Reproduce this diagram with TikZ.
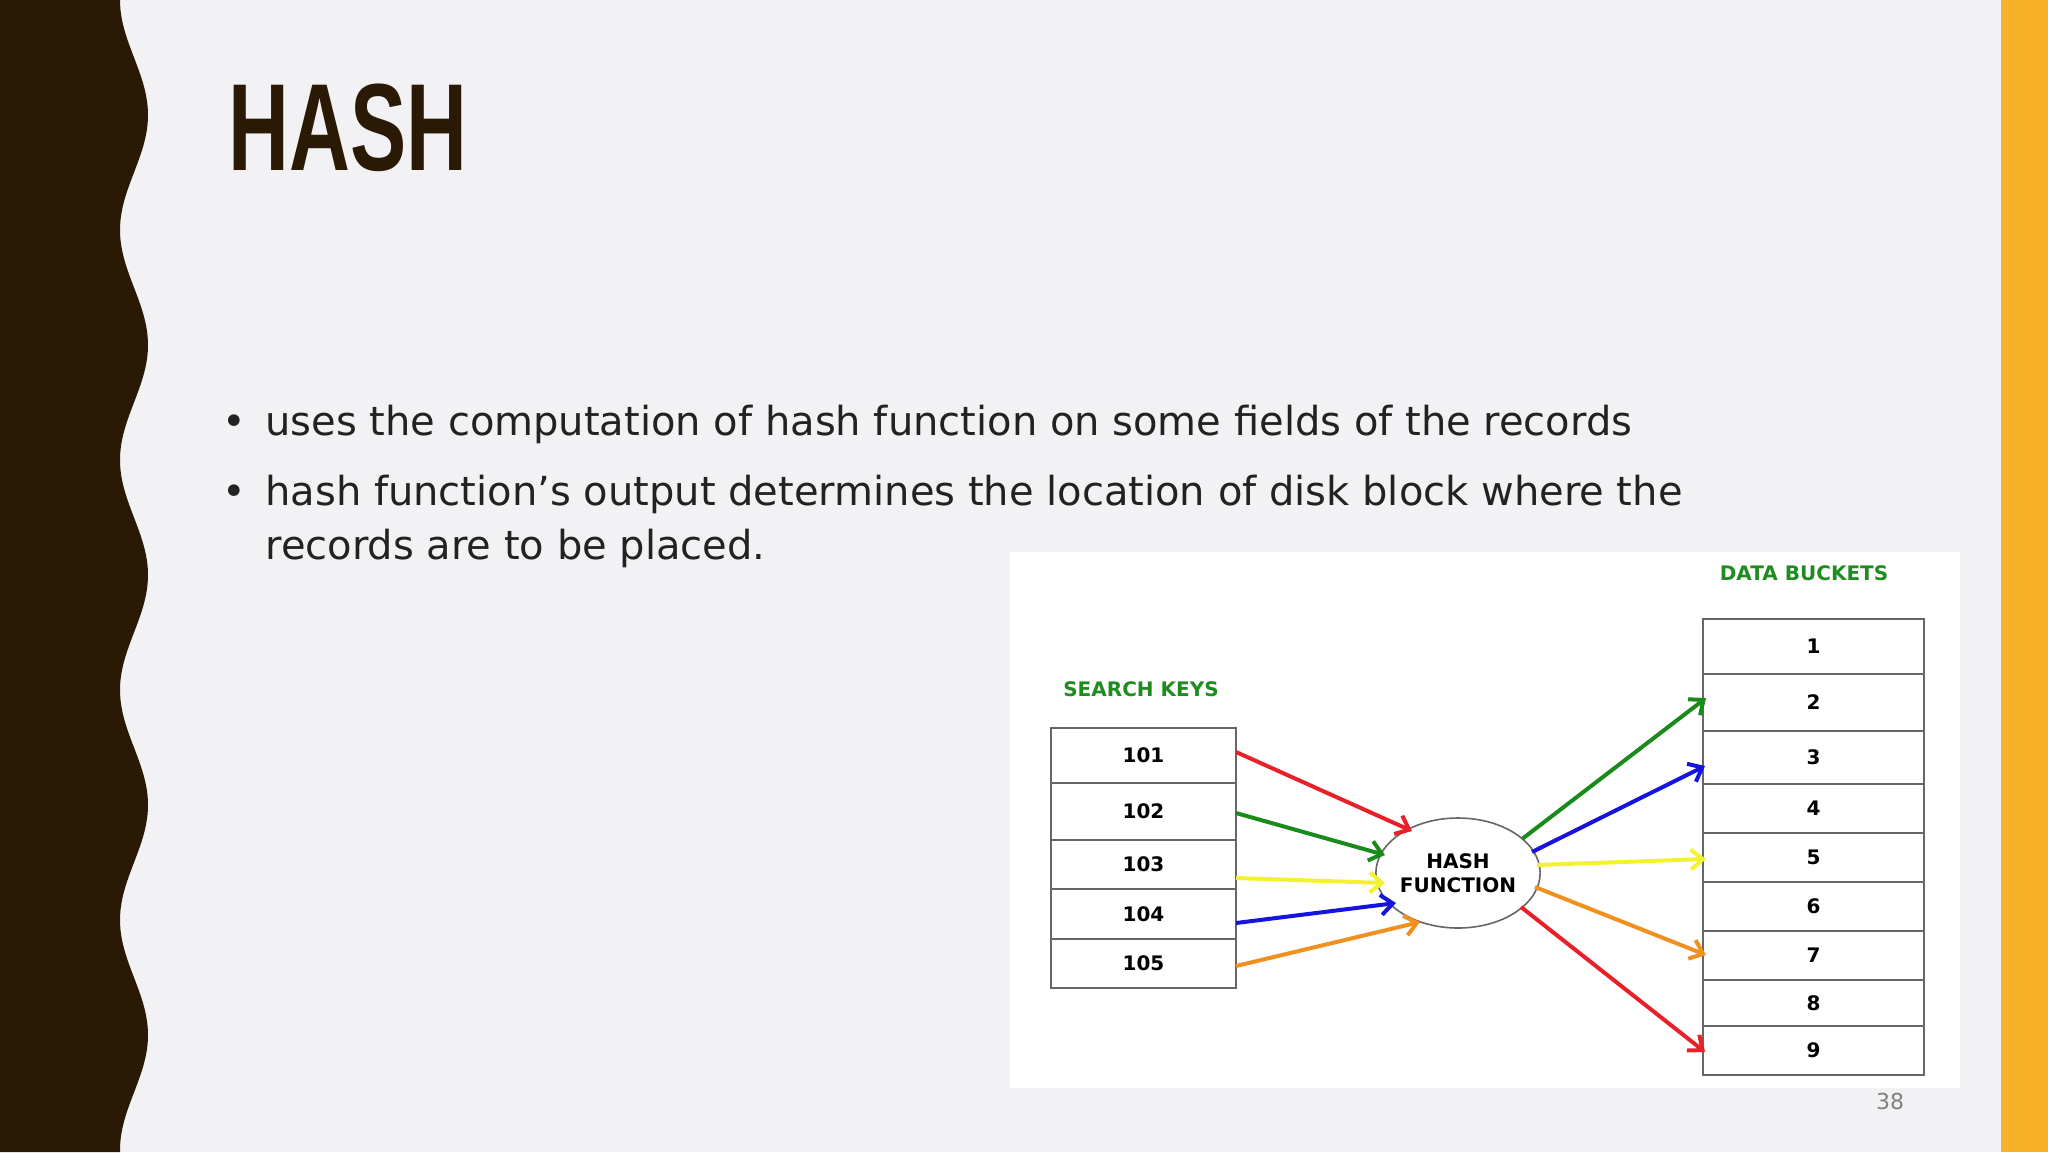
\documentclass[tikz,border=0pt]{standalone}
\usepackage{fontspec}
\setmainfont{DejaVu Sans}
\newfontfamily\titlefont{Liberation Sans}
\usetikzlibrary{arrows.meta,shapes.geometric}
\definecolor{bg}{HTML}{F2F2F4}
\definecolor{wavebrown}{HTML}{2A1A05}
\definecolor{sidebar}{HTML}{F7B22A}
\definecolor{bodytext}{HTML}{222222}
\definecolor{lblgreen}{HTML}{1E8C1E}
\definecolor{ared}{HTML}{E8202A}
\definecolor{agreen}{HTML}{1A8A1A}
\definecolor{ayellow}{HTML}{F2F230}
\definecolor{ablue}{HTML}{1414DC}
\definecolor{aorange}{HTML}{F0901E}
\tikzset{
  cell/.style={draw=gray!80!black, line width=0.8pt, fill=white, minimum width=92.5pt, inner sep=0pt, font=\bfseries\fontsize{10}{12}\selectfont},
  bcell/.style={draw=gray!80!black, line width=0.8pt, fill=white, minimum width=110.5pt, inner sep=0pt, font=\bfseries\fontsize{10}{12}\selectfont},
  lbl/.style={text=lblgreen, font=\bfseries\fontsize{10}{12}\selectfont},
  harrow/.style={line width=2pt, -{Straight Barb[length=6pt,width=10pt,line width=2pt]}},
  bodyline/.style={anchor=base west, text=bodytext, inner sep=0pt, font=\fontsize{20}{24}\selectfont}
}
\begin{document}
\begin{tikzpicture}[x=0.5pt,y=-0.5pt]
\useasboundingbox (0,0) rectangle (2048,1152);
\fill[bg] (0,0) rectangle (2048,1152);
\fill[sidebar] (2001,0) rectangle (2048,1152);
\fill[wavebrown] (0,0) -- plot[domain=0:1152,samples=240] ({134-14*cos(\x/230*360)},\x) -- (0,1152) -- cycle;
\node[anchor=base west, inner sep=0pt, text=wavebrown, xscale=0.68, font=\titlefont\bfseries\fontsize{62}{70}\selectfont] (title) at (228,170) {HASH};
\node[bodyline] (b1) at (222,435) {•};
\node[bodyline] (l1) at (265,435) {uses the computation of hash function on some fields of the records};
\node[bodyline] (b2) at (222,505) {•};
\node[bodyline] (l2) at (265,505) {hash function's output determines the location of disk block where the};
\node[bodyline] (l3) at (265,559) {records are to be placed.};
\fill[white] (1010,552) rectangle (1960,1088);
\node[lbl] (sk) at (1141,689) {SEARCH KEYS};
\node[lbl] (db) at (1804,573) {DATA BUCKETS};
\foreach \n/\a/\b in {101/728/783,102/783/840,103/840/889,104/889/939,105/939/988}{
  \node[cell, minimum height={(\b-\a)*0.5pt}] (k\n) at (1143.5,{(\a+\b)/2}) {\n};
}
\foreach \n/\a/\b in {1/619/674,2/674/731,3/731/784,4/784/833,5/833/882,6/882/931,7/931/980,8/980/1026,9/1026/1075}{
  \node[bcell, minimum height={(\b-\a)*0.5pt}] (d\n) at (1813.5,{(\a+\b)/2}) {\n};
}
\node[draw=gray!80!black, line width=0.8pt, fill=white, ellipse, minimum width=77pt, minimum height=55pt, inner sep=0pt, align=center, font=\bfseries\fontsize{10}{12}\selectfont] (hf) at (1458,873) {HASH\\FUNCTION};
\coordinate (s1) at (1236,752); \coordinate (e1) at (1412,831);
\coordinate (s2) at (1236,813); \coordinate (e2) at (1385,855);
\coordinate (s3) at (1236,878); \coordinate (e3) at (1385,883);
\coordinate (s4) at (1236,923); \coordinate (e4) at (1396,903);
\coordinate (s5) at (1236,966); \coordinate (e5) at (1420,922);
\coordinate (o1) at (1522,839); \coordinate (t1) at (1706,698);
\coordinate (o2) at (1532,852); \coordinate (t2) at (1705,766);
\coordinate (o3) at (1537,865); \coordinate (t3) at (1706,859);
\coordinate (o4) at (1535,887); \coordinate (t4) at (1706,955);
\coordinate (o5) at (1521,907); \coordinate (t5) at (1705,1052);
\draw[harrow, ared] (s1) -- (e1);
\draw[harrow, agreen] (s2) -- (e2);
\draw[harrow, ayellow] (s3) -- (e3);
\draw[harrow, ablue] (s4) -- (e4);
\draw[harrow, aorange] (s5) -- (e5);
\draw[harrow, agreen] (o1) -- (t1);
\draw[harrow, ablue] (o2) -- (t2);
\draw[harrow, ayellow] (o3) -- (t3);
\draw[harrow, aorange] (o4) -- (t4);
\draw[harrow, ared] (o5) -- (t5);
\node[text=gray, font=\fontsize{11}{13}\selectfont] (pg) at (1890,1101) {38};
\end{tikzpicture}
\end{document}
